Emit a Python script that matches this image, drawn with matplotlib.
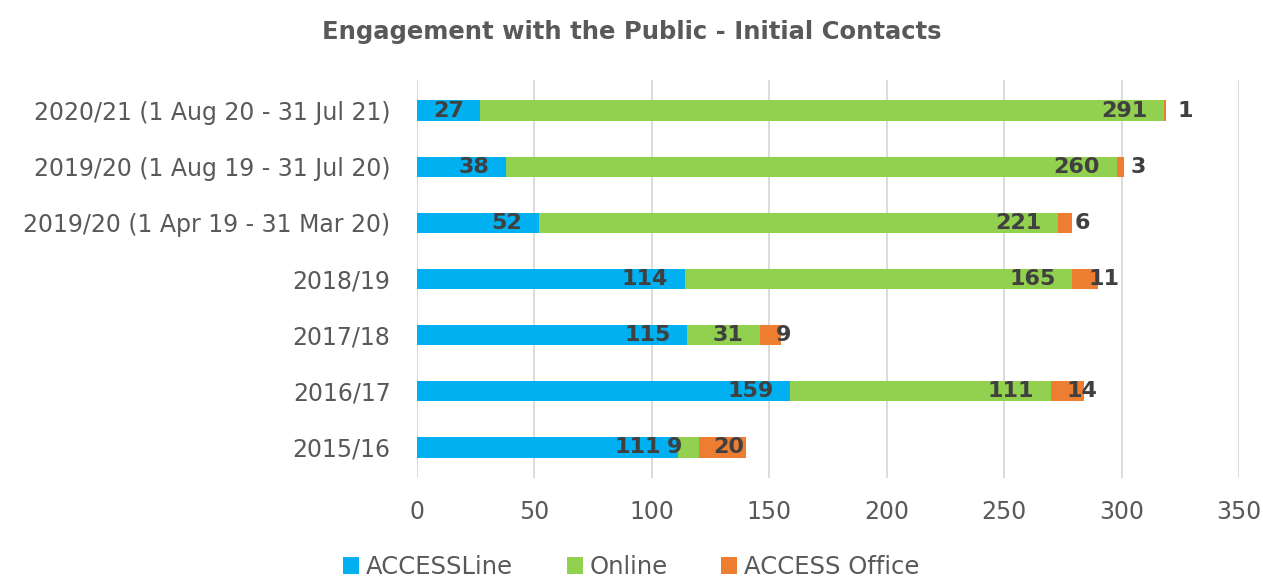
import matplotlib

matplotlib.use("Agg")
import matplotlib.pyplot as plt
import numpy as np

periods = [
    "2015/16",
    "2016/17",
    "2017/18",
    "2018/19",
    "2019/20 (1 Apr 19 - 31 Mar 20)",
    "2019/20 (1 Aug 19 - 31 Jul 20)",
    "2020/21 (1 Aug 20 - 31 Jul 21)",
]
accessline = [111, 159, 115, 114, 52, 38, 27]
online = [9, 111, 31, 165, 221, 260, 291]
office = [20, 14, 9, 11, 6, 3, 1]

series_names = ["ACCESSLine", "Online", "ACCESS Office"]
x_ticks = [0, 50, 100, 150, 200, 250, 300, 350]

COLORS = ["#00B0F0", "#92D050", "#ED7D31"]
TEXT = "#595959"
LABEL = "#404040"

plt.rcParams["font.family"] = ["DejaVu Sans"]

fig = plt.figure(figsize=(12.63, 5.78), dpi=100)
ax = fig.add_axes([417 / 1263, 1 - 478 / 578, (1239 - 417) / 1263, (478 - 80) / 578])

y = np.arange(len(periods))
left = np.zeros(len(periods))
bars = []
for name, vals, color in zip(series_names, [accessline, online, office], COLORS):
    b = ax.barh(y, vals, left=left, height=0.37, color=color, label=name, zorder=3)
    bars.append((b, vals, left.copy()))
    left = left + np.array(vals)

# labels for blue and green: right-aligned inside segment end
for b, vals, base in bars[:2]:
    for i, v in enumerate(vals):
        ax.annotate(str(v), xy=(base[i] + v, y[i]), xytext=(-12, 0), textcoords="offset points",
                    ha="right", va="center", fontsize=16, fontweight="bold", color=LABEL, zorder=4)

# office labels: small segments, centred near the bar end
b, vals, base = bars[2]
office_dx = [-12, -1.5, 2, 4, 7, 10, 14]
for i, v in enumerate(vals):
    ax.annotate(str(v), xy=(base[i] + v, y[i]), xytext=(office_dx[i], 0), textcoords="offset points",
                ha="center", va="center", fontsize=16, fontweight="bold", color=LABEL, zorder=4)

ax.set_xlim(0, 350)
ax.set_ylim(-0.55, len(periods) - 0.45)
ax.set_xticks(x_ticks)
ax.set_yticks(y)
ax.set_yticklabels(periods)
ax.tick_params(axis="both", length=0, labelsize=17, labelcolor=TEXT)
ax.tick_params(axis="x", pad=16)
ax.tick_params(axis="y", pad=19)
ax.grid(axis="x", color="#D9D9D9", linewidth=1.3, zorder=0)
for s in ax.spines.values():
    s.set_visible(False)

fig.suptitle("Engagement with the Public - Initial Contacts", y=1 - 32 / 578, va="center",
             fontsize=17.5, fontweight="bold", color=TEXT)

fig.legend(loc="center", bbox_to_anchor=(0.5, 1 - 567 / 578), ncol=3, frameon=False,
           fontsize=17.5, labelcolor=TEXT, handlelength=0.65, handleheight=0.65,
           handletextpad=0.3, columnspacing=2.2)

fig.savefig("out.png", dpi=100)
